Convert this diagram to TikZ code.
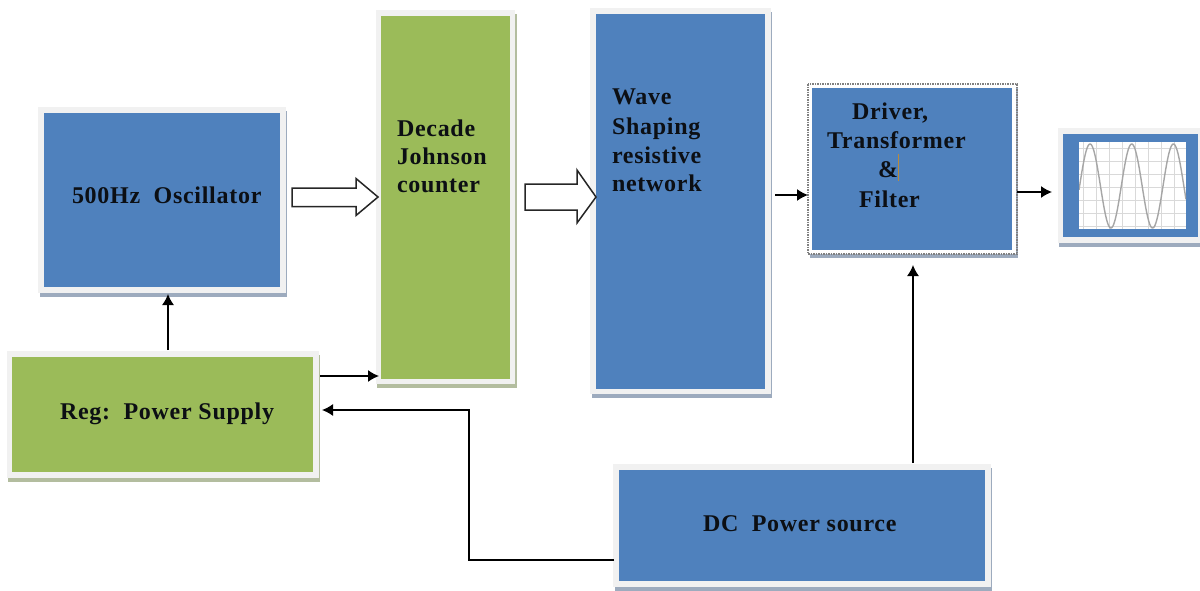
\documentclass[tikz,border=0pt]{standalone}
\usepackage{fontspec}
\setmainfont[LetterSpace=3]{Liberation Serif}
\usetikzlibrary{shadows,arrows.meta}
\definecolor{blockblue}{HTML}{4F81BD}
\definecolor{blockgreen}{HTML}{9BBB59}
\definecolor{rim}{HTML}{F1F1F1}
\definecolor{shadeblue}{HTML}{9DABBE}
\definecolor{shadegreen}{HTML}{B3BD9F}
\definecolor{inktext}{HTML}{0C0F14}
\definecolor{caretcol}{HTML}{B98A3C}
\definecolor{gridcol}{HTML}{D9D9D9}
\definecolor{wavecol}{HTML}{A6A6A6}
\tikzset{
  blockbase/.style={rectangle,inner sep=0pt,outer sep=0pt,line width=5.5pt,draw=rim},
  bluebox/.style={blockbase,fill=blockblue,general shadow={shadow xshift=1.5pt,shadow yshift=-3.8pt,fill=shadeblue,draw=shadeblue}},
  greenbox/.style={blockbase,fill=blockgreen,general shadow={shadow xshift=1.5pt,shadow yshift=-3.8pt,fill=shadegreen,draw=shadegreen}},
  lbl/.style={anchor=base west,inner sep=0pt,outer sep=0pt,font=\fontsize{24pt}{26pt}\selectfont\bfseries,text=inktext},
  link/.style={line width=1.4pt,color=black,-{Latex[length=11pt,width=12pt]}},
  openarrow/.style={draw=black!85,fill=white,line width=1.5pt,line join=miter}
}
\begin{document}
\begin{tikzpicture}[x=1pt,y=-1pt]
\useasboundingbox (0,0) rectangle (1200,590);
\node[bluebox,minimum width=242pt,minimum height=180pt] (osc) at (162,200) {};
\node[greenbox,minimum width=134pt,minimum height=368.5pt] (dec) at (445.5,197.25) {};
\node[bluebox,minimum width=175pt,minimum height=380.5pt] (wave) at (680.5,201.25) {};
\node[bluebox,minimum width=204pt,minimum height=166pt,draw=white,line width=4pt] (drv) at (912,169) {};
\draw[gray,line width=1.5pt,densely dotted] (808,84) rectangle (1017,254);
\node[bluebox,minimum width=140pt,minimum height=109pt] (scope) at (1130.5,185.5) {};
\node[greenbox,minimum width=306.5pt,minimum height=121pt] (reg) at (162.75,414.5) {};
\node[bluebox,minimum width=372pt,minimum height=117pt] (dc) at (802,525.5) {};
% scope screen
\fill[white] (1079,142) rectangle (1186,229);
\begin{scope}
\clip (1079,142) rectangle (1186,229);
\foreach \gx in {1083,1096,1109,1122,1135,1148,1161,1174}
  \draw[gridcol,line width=1pt] (\gx,142) -- (\gx,229);
\foreach \gy in {148,161,174,187,200,213,226}
  \draw[gridcol,line width=1pt] (1079,\gy) -- (1186,\gy);
\draw[wavecol,line width=1.4pt,domain=0:107,samples=160,smooth]
  plot ({1079+\x},{186-42*sin(8.633*(\x-0.6))});
\end{scope}
% open arrows
\coordinate (a1) at ([shift={(9,-2.5)}]osc.east);
\draw[openarrow] (a1) ++(0,-9.5) -- ++(64,0) -- ++(0,-9.5) -- ++(22,18.5) -- ++(-22,18.5) -- ++(0,-9) -- ++(-64,0) -- cycle;
\coordinate (a3) at ([shift={(12.5,-0.25)}]dec.east);
\draw[openarrow] (a3) ++(0,-13) -- ++(52,0) -- ++(0,-14) -- ++(19,27) -- ++(-19,26) -- ++(0,-13) -- ++(-52,0) -- cycle;
% connectors
\draw[link] ([shift={(5.25,-4)}]reg.north) -- ([shift={(6,4)}]osc.south);
\draw[link] ([shift={(4,-38.5)}]reg.east) -- ([shift={(0.5,178.75)}]dec.west);
\draw[link] ([shift={(-2,34.5)}]dc.west) -- ++(-145,0) |- ([shift={(6,-4.5)}]reg.east);
\draw[link] ([shift={(7,-6.25)}]wave.east) -- ([shift={(-2,26)}]drv.west);
\draw[link] ([shift={(111,-4)}]dc.north) -- ([shift={(1,13)}]drv.south);
\draw[link] ([shift={(3,23)}]drv.east) -- ([shift={(-8.5,6.5)}]scope.west);
% labels
\node[lbl] (t1) at (72,203) {500Hz\ \ Oscillator};
\node[lbl] (t2) at (397,136) {Decade};
\node[lbl] (t3) at (397,164) {Johnson};
\node[lbl] (t4) at (397,192) {counter};
\node[lbl] (t5) at (612,104) {Wave};
\node[lbl] (t6) at (612,134) {Shaping};
\node[lbl] (t7) at (612,163) {resistive};
\node[lbl] (t8) at (612,191) {network};
\node[lbl] (t9) at (852,119) {Driver,};
\node[lbl] (t10) at (827,148) {Transformer};
\node[lbl] (t11) at (878,177) {\&};
\node[lbl] (t12) at (859,207) {Filter};
\node[lbl] (t13) at (60,419) {Reg:\ \ Power Supply};
\node[lbl] (t14) at (703,531) {DC\ \ Power source};
\draw[caretcol,line width=1pt] (898,154) -- (898,181);
\end{tikzpicture}
\end{document}
